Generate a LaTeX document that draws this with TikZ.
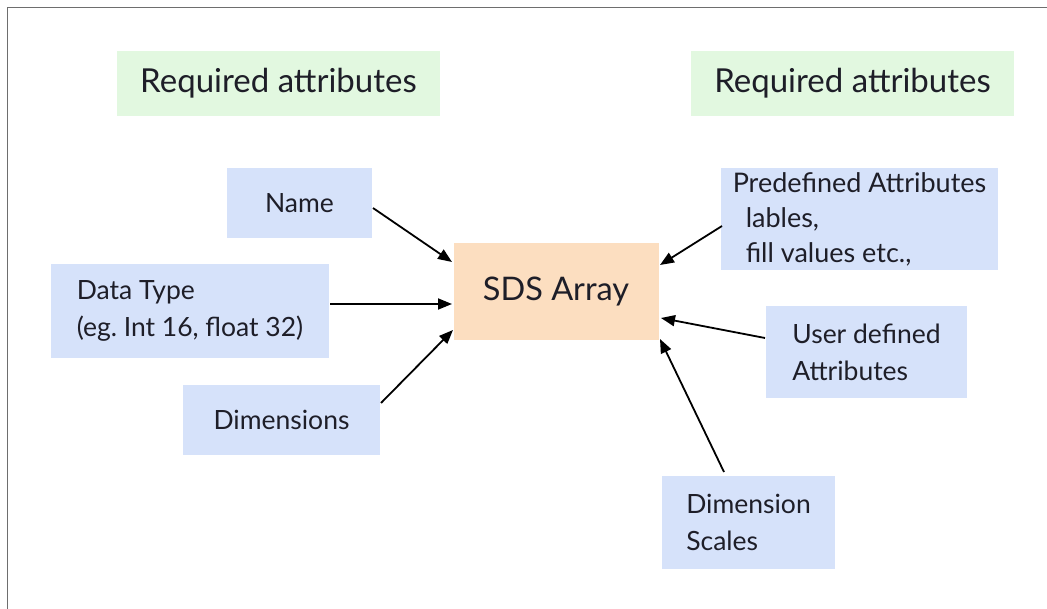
\documentclass[tikz,border=0pt]{standalone}
\usepackage{fontspec}
\setmainfont{Lato}
\frenchspacing
\usetikzlibrary{arrows.meta}
\definecolor{greenbg}{RGB}{226,248,224}
\definecolor{bluebg}{RGB}{214,226,250}
\definecolor{orangebg}{RGB}{252,222,192}
\definecolor{ink}{RGB}{30,30,40}
\definecolor{framegray}{RGB}{110,110,110}
\tikzset{
  titlebox/.style={fill=greenbg, draw=none, minimum width=323pt, minimum height=65pt, inner sep=0pt, font=\fontsize{33}{38}\selectfont, text=ink},
  itembox/.style={fill=bluebg, draw=none, inner sep=0pt, font=\fontsize{26.5}{37}\selectfont, text=ink},
  leftbox/.style={itembox, align=left},
  corebox/.style={fill=orangebg, draw=none, minimum width=205pt, minimum height=97pt, inner sep=0pt, font=\fontsize{32.5}{38}\selectfont, text=ink},
  conn/.style={draw=black, line width=1.8pt, -{Triangle[length=14pt,width=11pt]}},
}
\begin{document}
\begin{tikzpicture}[x=1pt,y=-1pt]
\useasboundingbox (0,0) rectangle (1047,609);
\draw[framegray, line width=1.5pt] (7.5,609) -- (7.5,7.5) -- (1047,7.5);

\node[titlebox] (t1) at (278.5,83.5) {Required attributes};
\node[titlebox] (t2) at (852.5,83.5) {Required attributes};

\node[itembox, minimum width=145pt, minimum height=70pt] (name) at (299.5,203) {Name};
\node[leftbox, minimum width=278pt, minimum height=94pt] (dtype) at (190,311) {Data Type\\(eg. Int 16, float 32)};
\node[itembox, minimum width=197pt, minimum height=70pt] (dims) at (281.5,420) {Dimensions};

\node[corebox] (sds) at (556,291.5) {SDS Array};

\node[leftbox, minimum width=277pt, minimum height=102pt, font=\fontsize{27}{35}\selectfont] (pre) at (859.5,219) {Predefined Attributes\\\hspace*{13pt}lables,\\\hspace*{13pt}fill values etc.,};
\node[leftbox, minimum width=201pt, minimum height=92pt] (user) at (866.5,352) {User defined\\Attributes};
\node[leftbox, minimum width=173pt, minimum height=93pt] (scales) at (748.5,522.5) {Dimension\\Scales};

\coordinate (nameS) at (373,208);
\coordinate (nameE) at (452,262);
\coordinate (dtS) at (330,304);
\coordinate (dtE) at (452,304);
\coordinate (dimS) at (381,403);
\coordinate (dimE) at (453,330);
\coordinate (preS) at (722,226);
\coordinate (preE) at (660,265);
\coordinate (userS) at (765,338);
\coordinate (userE) at (661,318);
\coordinate (scS) at (724,472);
\coordinate (scE) at (660,339);

\draw[conn] (nameS) -- (nameE);
\draw[conn] (dtS) -- (dtE);
\draw[conn] (dimS) -- (dimE);
\draw[conn] (preS) -- (preE);
\draw[conn] (userS) -- (userE);
\draw[conn] (scS) -- (scE);
\end{tikzpicture}
\end{document}
